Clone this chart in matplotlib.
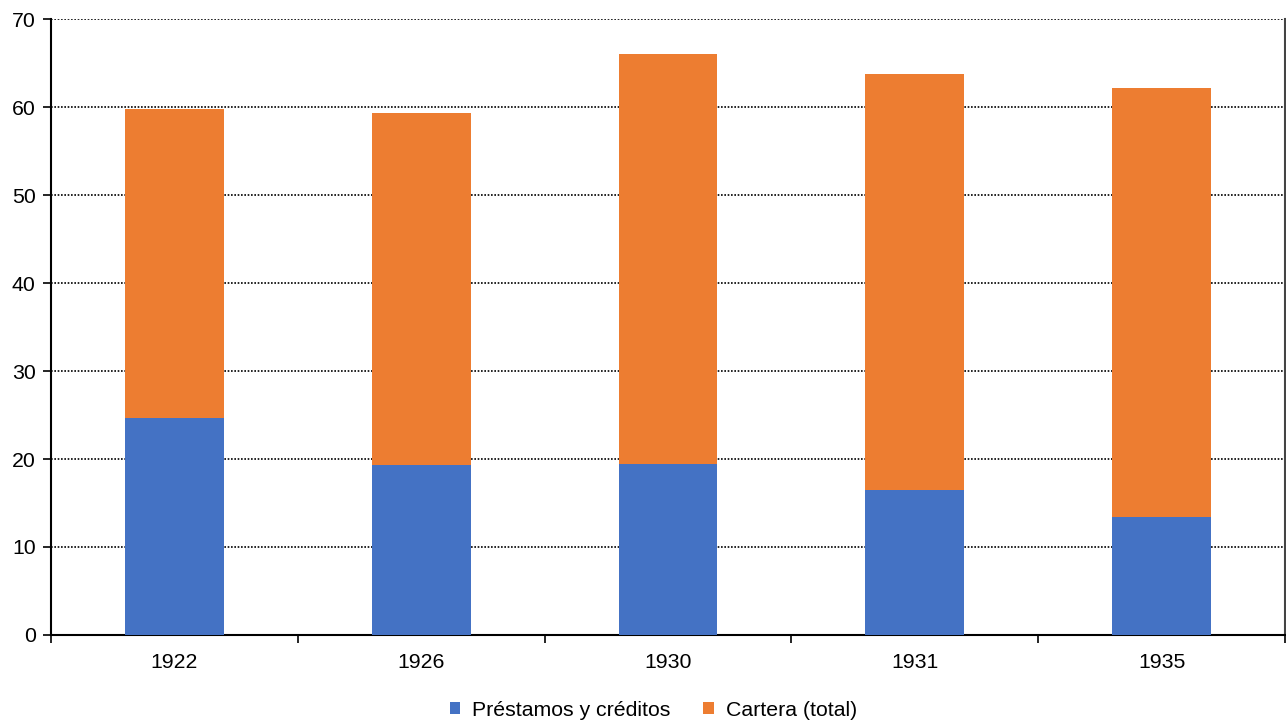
import matplotlib
matplotlib.use("Agg")
import matplotlib.pyplot as plt
from matplotlib.patches import Patch
import numpy as np

plt.rcParams['font.family'] = ['Liberation Sans', 'DejaVu Sans']

years = ["1922", "1926", "1930", "1931", "1935"]
prestamos = [24.7, 19.3, 19.4, 16.5, 13.45]
cartera = [35.1, 40.0, 46.6, 47.25, 48.7]

blue = "#4472C4"
orange = "#ED7D31"
fs = 15.3

fig = plt.figure(figsize=(12.86, 7.22), dpi=100)
ax = fig.add_axes([51 / 1286, 1 - 635 / 722, (1285 - 51) / 1286, (635 - 19) / 722])

x = np.arange(len(years))
ax.bar(x, prestamos, width=0.4, color=blue, zorder=3, label="Préstamos y créditos")
ax.bar(x, cartera, width=0.4, bottom=prestamos, color=orange, zorder=3, label="Cartera (total)")

ax.set_xlim(-0.5, len(years) - 0.5)
ax.set_ylim(0, 70)
ax.set_yticks(range(0, 71, 10))
ax.yaxis.grid(True, linestyle=(0, (1, 1)), color="black", linewidth=1.2, zorder=0)
ax.set_axisbelow(True)

ax.set_xticks(x)
ax.set_xticklabels(years, fontsize=fs)
ax.set_xticks(np.arange(-0.5, len(years), 1), minor=True)
ax.tick_params(axis="x", which="major", length=0, pad=13)
ax.tick_params(axis="x", which="minor", length=6, width=1.2, color="black")
ax.tick_params(axis="y", length=6, width=1.2, labelsize=fs, pad=5, color="black")

ax.spines["left"].set_linewidth(1.5)
ax.spines["bottom"].set_linewidth(1.5)
ax.spines["top"].set_visible(False)
ax.spines["right"].set_color("#444444")
ax.spines["right"].set_linewidth(1.5)

handles = [Patch(facecolor=blue, label="Préstamos y créditos"),
           Patch(facecolor=orange, label="Cartera (total)")]
fig.legend(handles=handles, loc="center", bbox_to_anchor=(0.508, 1 - 710 / 722),
           ncol=2, frameon=False, fontsize=fs, handlelength=0.5, handleheight=0.5,
           handletextpad=0.55, columnspacing=1.55)

fig.savefig("out.png", dpi=100)
